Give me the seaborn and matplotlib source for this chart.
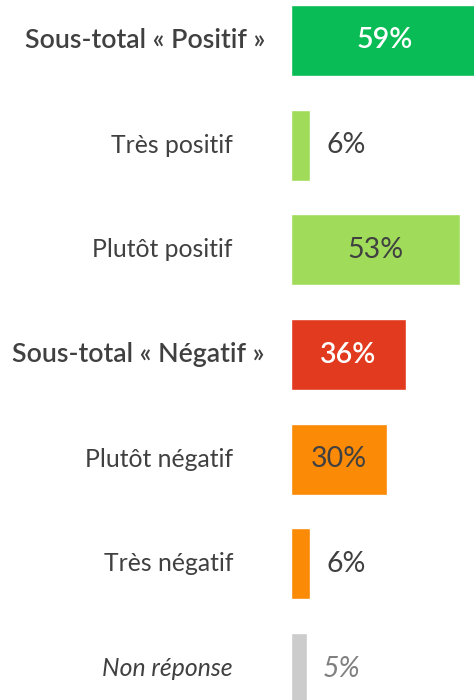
import matplotlib
matplotlib.use("Agg")
import matplotlib.pyplot as plt
import seaborn as sns
import pandas as pd

categories = ["Sous-total « Positif »", "Très positif", "Plutôt positif",
              "Sous-total « Négatif »", "Plutôt négatif", "Très négatif", "Non réponse"]
values = [59, 6, 53, 36, 30, 6, 5]
value_labels = ["59%", "6%", "53%", "36%", "30%", "6%", "5%"]
bar_colors = ["#09BC55", "#A0DC5A", "#A0DC5A", "#E23A1E", "#FB8A07", "#FB8A07", "#CCCCCC"]
is_subtotal = [True, False, False, True, False, False, False]
is_italic = [False, False, False, False, False, False, True]

sns.set_style("white")
plt.rcParams['font.family'] = ['Lato', 'DejaVu Sans']

df = pd.DataFrame({"cat": categories, "val": values})

fig = plt.figure(figsize=(4.74, 7.0), dpi=100)
ax = fig.add_axes([0, 0, 1, 1])
sns.barplot(data=df, x="val", y="cat", hue="cat", palette=bar_colors,
            legend=False, width=0.678, orient="h", ax=ax, saturation=1)

px_per_unit = 3.19
left_px = 291
ax.set_xlim(-left_px / px_per_unit, (474 - left_px) / px_per_unit)
ax.set_ylim((700 - 40.5) / 104.67, -40.5 / 104.67)
ax.axis("off")

text_dark = "#404040"
for i, (cat, v, lab) in enumerate(zip(categories, values, value_labels)):
    if is_subtotal[i]:
        ax.text(-26 / px_per_unit, i, cat, ha="right", va="center", fontsize=19.3,
                fontweight="semibold", color=text_dark)
    else:
        ax.text(-58 / px_per_unit, i, cat, ha="right", va="center", fontsize=17.8,
                color=text_dark, style="italic" if is_italic[i] else "normal")
    if v >= 20:
        col = "white" if is_subtotal[i] else text_dark
        xc = v / 2
        ax.text(xc, i, lab, ha="center", va="center", fontsize=20.5,
                color=col, fontweight="semibold" if is_subtotal[i] else "normal")
    else:
        col = "#808080" if is_italic[i] else text_dark
        ax.text(v + 16 / px_per_unit, i, lab, ha="left", va="center", fontsize=20.5,
                color=col, style="italic" if is_italic[i] else "normal")

fig.savefig("out.png", dpi=100)
